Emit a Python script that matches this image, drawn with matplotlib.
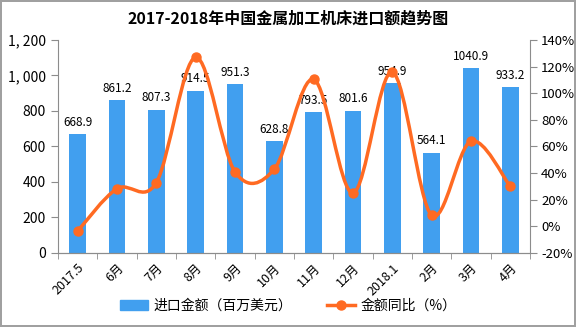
import matplotlib
matplotlib.use('Agg')
import matplotlib.pyplot as plt
from matplotlib.path import Path
from matplotlib.patches import PathPatch, Patch
from matplotlib.lines import Line2D
from matplotlib.ticker import FuncFormatter, FixedLocator

plt.rcParams['font.family'] = ['Noto Sans CJK SC', 'DejaVu Sans']

# data
months = ['2017.5', '6月', '7月', '8月', '9月', '10月', '11月', '12月',
          '2018.1', '2月', '3月', '4月']
imports = [668.9, 861.2, 807.3, 914.5, 951.3, 628.8, 793.5, 801.6,
           954.9, 564.1, 1040.9, 933.2]
yoy = [-3.5, 28.3, 32.9, 127, 41, 43, 110.5, 25, 116, 8.3, 64, 30]

blue = '#419FEF'
orange = '#FF6A22'
grey = '#8C8C8C'

fig = plt.figure(figsize=(5.76, 3.27), dpi=100, edgecolor='#A0A0A0', linewidth=1.5)
ax = fig.add_axes([0.1007, 0.2263, 0.8193, 0.6514])
ax2 = ax.twinx()

x = list(range(len(months)))
ax.bar(x, imports, width=0.42, color=blue, zorder=2)
for xi, v in zip(x, imports):
    ax.annotate(f'{v:.1f}', (xi, v), xytext=(0, 4), textcoords='offset points',
                ha='center', va='bottom', fontsize=8.5, zorder=5)

ax.set_xlim(-0.5, len(months) - 0.5)
ax.set_ylim(0, 1200)
ax.set_yticks(range(0, 1201, 200))
ax.yaxis.set_major_formatter(FuncFormatter(lambda v, p: f'{int(v):,}'.replace(',', ', ')))
ax.set_xticks(x)
ax.set_xticklabels(months, rotation=45, ha='right', rotation_mode='anchor', fontsize=9)
ax.tick_params(axis='x', length=0, pad=6)
ax.xaxis.set_minor_locator(FixedLocator([i - 0.5 for i in range(len(months) + 1)]))
ax.tick_params(axis='x', which='minor', length=4, color=grey)
ax.tick_params(axis='y', length=5, color=grey, labelsize=10, pad=4)

# smooth line through the monthly points (Bezier path)
verts = [(x[0], yoy[0])]
codes = [Path.MOVETO]
n = len(yoy)
for i in range(n - 1):
    a = max(i - 1, 0)
    d = min(i + 2, n - 1)
    c1 = (x[i] + (x[i + 1] - x[a]) / 6, yoy[i] + (yoy[i + 1] - yoy[a]) / 6)
    c2 = (x[i + 1] - (x[d] - x[i]) / 6, yoy[i + 1] - (yoy[d] - yoy[i]) / 6)
    verts += [c1, c2, (x[i + 1], yoy[i + 1])]
    codes += [Path.CURVE4] * 3
ax2.add_patch(PathPatch(Path(verts, codes), fill=False, edgecolor=orange, lw=2.5, zorder=3))
ax2.plot(x, yoy, 'o', color=orange, ms=6.5, zorder=4)

ax2.set_ylim(-20, 140)
ax2.set_yticks(range(-20, 141, 20))
ax2.yaxis.set_major_formatter(FuncFormatter(lambda v, p: f'{int(v)}%'))
ax2.tick_params(axis='y', length=5, color=grey, labelsize=9.5, pad=3)

for a in (ax, ax2):
    a.spines['top'].set_visible(False)
    for s in ('left', 'right', 'bottom'):
        a.spines[s].set_color(grey)
ax.spines['right'].set_visible(False)
ax2.spines['left'].set_visible(False)

fig.text(0.5, 0.943, '2017-2018年中国金属加工机床进口额趋势图', ha='center', va='center',
         fontsize=11.5, fontweight='bold')

handles = [Patch(color=blue), Line2D([], [], color=orange, lw=2.5, marker='o', ms=6.5)]
fig.legend(handles, ['进口金额（百万美元）', '金额同比（%）'], loc='center',
           bbox_to_anchor=(0.5, 0.065), ncol=2, frameon=False, fontsize=10,
           handlelength=2.0, columnspacing=2.5, handletextpad=0.4)

fig.savefig('out.png', dpi=100)
